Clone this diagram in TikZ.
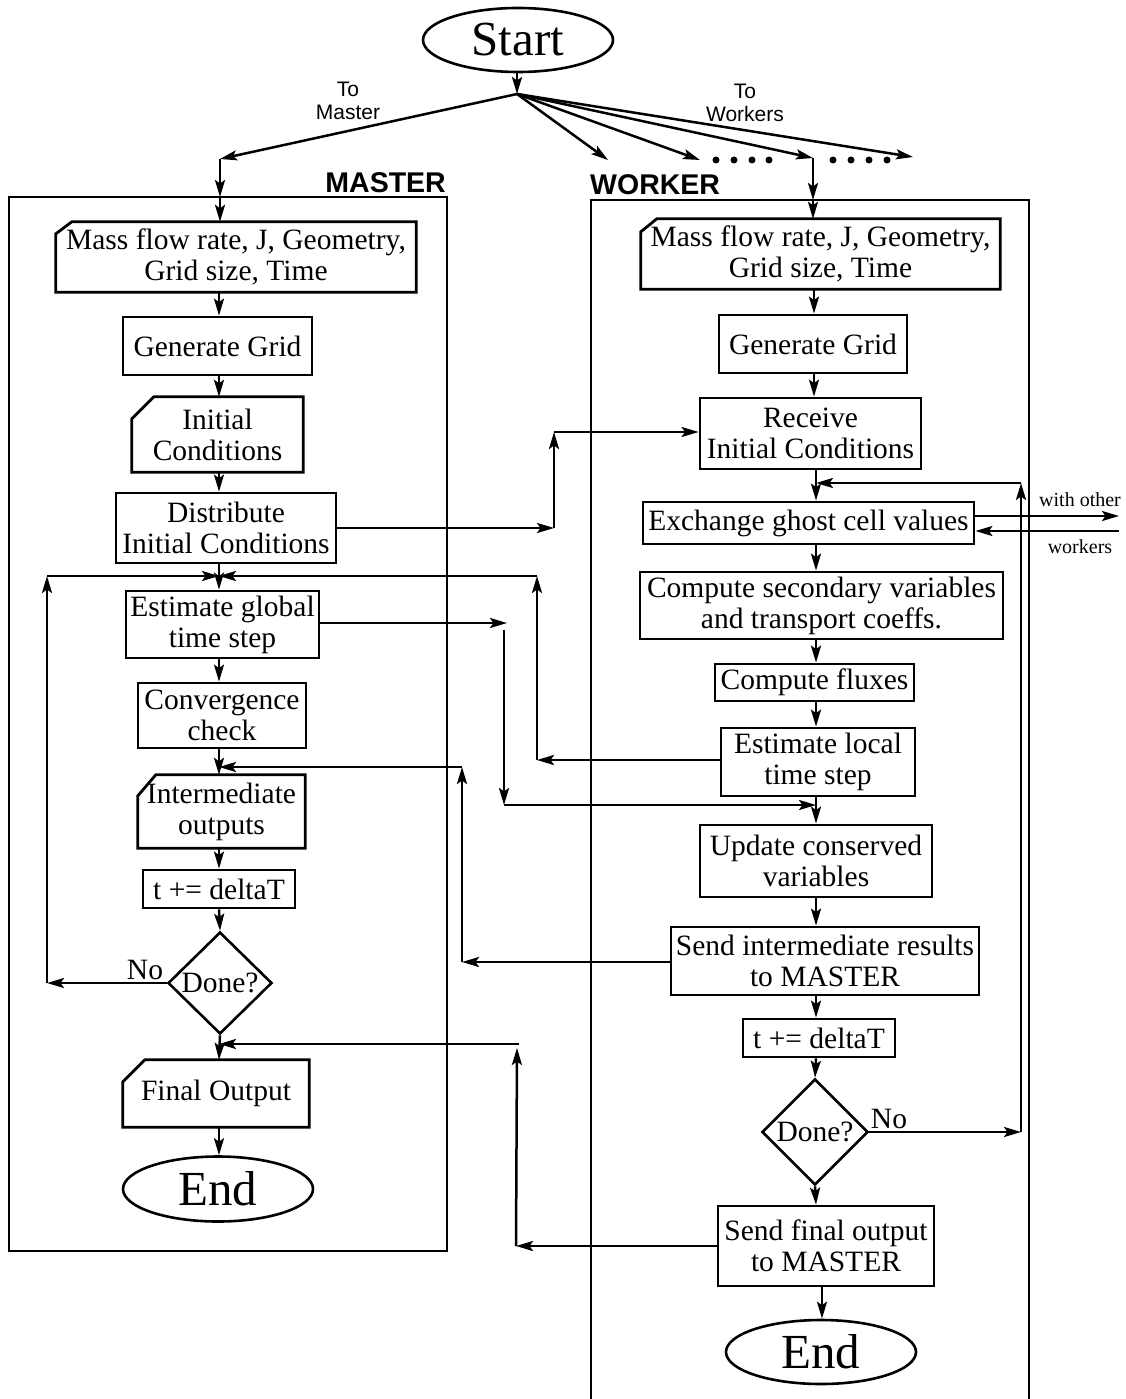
\documentclass[tikz,border=0pt]{standalone}
\usepackage{fontspec}
\setmainfont{Liberation Serif}
\setsansfont{Liberation Sans}
\usetikzlibrary{arrows.meta,shapes.geometric}
\newcommand\boxfont{\fontsize{29.5}{31}\selectfont}
\newcommand\bigfont{\fontsize{49}{52}\selectfont}
\newcommand\lblfont{\fontsize{21}{23}\selectfont\sffamily}
\newcommand\hdfont{\fontsize{28.5}{30}\selectfont\sffamily\bfseries}
\newcommand\smfont{\fontsize{20}{22}\selectfont}
\newcommand\chamf[3]{\draw[boxline] ([yshift=-#3pt]#1.north west) -- ([xshift=#2pt]#1.north west) -- (#1.north east) -- (#1.south east) -- (#1.south west) -- cycle;}
\begin{document}
\begin{tikzpicture}[x=1pt,y=-1pt,
  arr/.style={-{Stealth[length=17pt,width=10pt,inset=3.5pt]}, line width=2.5pt},
  boxline/.style={line width=2.8pt, line join=miter},
  box/.style={draw, boxline, rectangle, inner sep=0pt, align=center, font=\boxfont},
  dbox/.style={rectangle, inner sep=0pt, align=center, font=\boxfont},
  dec/.style={draw, line width=2.6pt, diamond, inner sep=0pt, font=\boxfont},
  term/.style={draw, line width=2.6pt, ellipse, inner sep=0pt, font=\bigfont},
  frame/.style={draw, line width=2.6pt},
  lbl/.style={inner sep=0pt, align=center, font=\lblfont},
  hd/.style={inner sep=0pt, font=\hdfont},
  sm/.style={inner sep=0pt, font=\smfont},
  nolbl/.style={inner sep=0pt, font=\boxfont},
  dot/.style={fill=black, circle, inner sep=0pt, minimum size=7pt}]
\useasboundingbox (0,0) rectangle (1126,1399);

% frames
\draw[frame] (9,197) rectangle (447,1251);
\draw[frame] (591,1399) -- (591,200) -- (1029,200) -- (1029,1399);
\node[hd, anchor=base east] (mhd) at (446,193) {MASTER};
\node[hd, anchor=base west] (whd) at (590,194) {WORKER};

% start
\node[term, minimum width=190pt, minimum height=64pt] (start) at (518,40) {Start};
\node[lbl] (tomaster) at (348,101) {To\\Master};
\node[lbl] (toworkers) at (745,103) {To\\Workers};

% master nodes
\node[dbox, minimum width=360pt, minimum height=70pt] (mIn) at (236,257)
  {Mass flow rate, J, Geometry,\\Grid size, Time};
\node[box, minimum width=189pt, minimum height=58pt] (mGG) at (217.5,346) {Generate Grid};
\node[dbox, minimum width=171pt, minimum height=75pt] (mIC) at (217.5,434.5) {Initial\\Conditions};
\node[box, minimum width=220pt, minimum height=70pt] (mDist) at (226,528) {Distribute\\Initial Conditions};
\node[box, minimum width=193pt, minimum height=67pt] (mEst) at (222.5,624.5) {Estimate global\\time step};
\node[box, minimum width=168pt, minimum height=65pt] (mConv) at (222,715.5) {Convergence\\check};
\node[dbox, minimum width=167pt, minimum height=73pt] (mInt) at (221.5,811.5) {Intermediate\\outputs};
\node[box, minimum width=152pt, minimum height=38pt] (mT) at (219,889) {t += deltaT};
\node[dec, minimum width=104pt, minimum height=102pt] (mDone) at (220,983) {Done?};
\node[nolbl] (mNo) at (145,970) {No};
\node[dbox, minimum width=186pt, minimum height=67pt] (mFin) at (216,1093.5) {Final Output};
\node[term, minimum width=190pt, minimum height=65pt] (mEnd) at (218,1189) {End};

% worker nodes
\node[dbox, minimum width=359pt, minimum height=70pt] (wIn) at (820.5,254)
  {Mass flow rate, J, Geometry,\\Grid size, Time};
\node[box, minimum width=188pt, minimum height=58pt] (wGG) at (813,344) {Generate Grid};
\node[box, minimum width=221pt, minimum height=71pt] (wRec) at (810.5,433.5) {Receive\\Initial Conditions};
\node[box, minimum width=331pt, minimum height=42pt] (wEx) at (808.5,523) {Exchange ghost cell values};
\node[box, minimum width=363pt, minimum height=67pt] (wComp) at (821.5,605.5) {Compute secondary variables\\and transport coeffs.};
\node[box, minimum width=199pt, minimum height=37pt] (wFlux) at (814.5,682.5) {Compute fluxes};
\node[box, minimum width=194pt, minimum height=68pt] (wLoc) at (818,762) {Estimate local\\time step};
\node[box, minimum width=232pt, minimum height=72pt] (wUpd) at (816,861) {Update conserved\\variables};
\node[box, minimum width=308pt, minimum height=68pt] (wSend) at (825,961) {Send intermediate results\\to MASTER};
\node[box, minimum width=152pt, minimum height=38pt] (wT) at (819,1038) {t += deltaT};
\node[dec, minimum width=106pt, minimum height=106pt] (wDone) at (815,1132) {Done?};
\node[nolbl] (wNo) at (889,1119) {No};
\node[box, minimum width=216pt, minimum height=80pt] (wFin) at (826,1246) {Send final output\\to MASTER};
\node[term, minimum width=190pt, minimum height=64pt] (wEnd) at (821,1352) {End};
\node[sm] (wo1) at (1080,500) {with other};
\node[sm] (wo2) at (1080,547) {workers};

% chamfered (data) outlines
\chamf{mIn}{16}{12}
\chamf{wIn}{16}{13}
\chamf{mIC}{22}{22}
\chamf{mInt}{18}{21}
\chamf{mFin}{22}{22}

% dots
\foreach \i/\xx in {1/716,2/734,3/752,4/769,5/833,6/851,7/869,8/887}
  \node[dot] (dt\i) at (\xx,160) {};

% helper coordinates
\coordinate (J) at (517,94);
\coordinate (mT1) at (220,159);
\coordinate (mF) at (220,197);
\coordinate (wT1) at (813,158);
\coordinate (wF) at (813,200);
\coordinate (w1) at (608,160);
\coordinate (w2) at (700,160);
\coordinate (w4) at (913,157);
\coordinate (mc) at (219,0);
\coordinate (wc1) at (814,0);
\coordinate (wc) at (816,0);
\coordinate (wce) at (822,0);
\coordinate (mj1) at (219,576);
\coordinate (mj2) at (219,767);
\coordinate (mj3) at (219,1044);
\coordinate (wj1) at (816,483);
\coordinate (wj2) at (816,805);
\coordinate (L1) at (47,983);
\coordinate (L2) at (47,576);
\coordinate (R1) at (537,760);
\coordinate (R2) at (537,576);
\coordinate (G1) at (507,623);
\coordinate (G2) at (504,630);
\coordinate (G3) at (504,805);
\coordinate (S1) at (462,962);
\coordinate (S2) at (462,767);
\coordinate (N1) at (1021,1132);
\coordinate (N2) at (1021,483);
\coordinate (F1) at (516,1246);
\coordinate (F2) at (517,1048);
\coordinate (F3) at (519,1044);
\coordinate (D1) at (554,528);
\coordinate (D2) at (554,432);
\coordinate (X1) at (1119,516);
\coordinate (X2) at (1119,531);

% top distribution
\draw[arr] (start.south -| J) -- (J);
\draw[arr] (J) -- (mT1);
\draw[arr] (mT1) -- (mF);
\draw[arr] (mF) -- (mIn.north -| mF);
\draw[arr] (J) -- (w1);
\draw[arr] (J) -- (w2);
\draw[arr] (J) -- (wT1);
\draw[arr] (J) -- (w4);
\draw[arr] (wT1) -- (wF);
\draw[arr] (wF) -- (wIn.north -| wF);

% master chain
\draw[arr] (mIn.south -| mc) -- (mGG.north -| mc);
\draw[arr] (mGG.south -| mc) -- (mIC.north -| mc);
\draw[arr] (mIC.south -| mc) -- (mDist.north -| mc);
\draw[arr] (mDist.south -| mc) -- (mEst.north -| mc);
\draw[arr] (mEst.south -| mc) -- (mConv.north -| mc);
\draw[arr] (mConv.south -| mc) -- (mInt.north -| mc);
\draw[arr] (mInt.south -| mc) -- (mT.north -| mc);
\draw[arr] (mT.south -| mc) -- (mDone.north);
\draw[arr] (mDone.south) -- (mFin.north -| mc);
\draw[arr] (mFin.south -| mc) -- (mEnd.north -| mc);

% master loop
\draw[arr] (mDone.west) -- (L1);
\draw[arr] (L1) -- (L2);
\draw[arr] (L2) -- (mj1);

% worker chain
\draw[arr] (wIn.south -| wc1) -- (wGG.north -| wc1);
\draw[arr] (wGG.south -| wc1) -- (wRec.north -| wc1);
\draw[arr] (wRec.south -| wc) -- (wEx.north -| wc);
\draw[arr] (wEx.south -| wc) -- (wComp.north -| wc);
\draw[arr] (wComp.south -| wc) -- (wFlux.north -| wc);
\draw[arr] (wFlux.south -| wc) -- (wLoc.north -| wc);
\draw[arr] (wLoc.south -| wc) -- (wUpd.north -| wc);
\draw[arr] (wUpd.south -| wc) -- (wSend.north -| wc);
\draw[arr] (wSend.south -| wc) -- (wT.north -| wc);
\draw[arr] (wT.south -| wc) -- (wDone.north);
\draw[arr] (wDone.south) -- (wFin.north -| wc);
\draw[arr] (wFin.south -| wce) -- (wEnd.north -| wce);

% worker loop
\draw[arr] (wDone.east) -- (N1);
\draw[arr] (N1) -- (N2);
\draw[arr] (N2) -- (wj1);

% exchange with other workers
\draw[arr] (wEx.east |- X1) -- (X1);
\draw[arr] (X2) -- (wEx.east |- X2);

% master -> worker: initial conditions
\draw[arr] (mDist.east) -- (D1);
\draw[arr] (D1) -- (D2);
\draw[arr] (D2) -- (wRec.west |- D2);

% master global time step -> worker
\draw[arr] (mEst.east |- G1) -- (G1);
\draw[arr] (G2) -- (G3);
\draw[arr] (G3) -- (wj2);

% worker local time step -> master
\draw[arr] (wLoc.west |- R1) -- (R1);
\draw[arr] (R1) -- (R2);
\draw[arr] (R2) -- (mj1);

% intermediate results -> master
\draw[arr] (wSend.west |- S1) -- (S1);
\draw[arr] (S1) -- (S2);
\draw[arr] (S2) -- (mj2);

% final output -> master
\draw[arr] (wFin.west |- F1) -- (F1);
\draw[arr] (F1) -- (F2);
\draw[arr] (F3) -- (mj3);
\end{tikzpicture}
\end{document}
